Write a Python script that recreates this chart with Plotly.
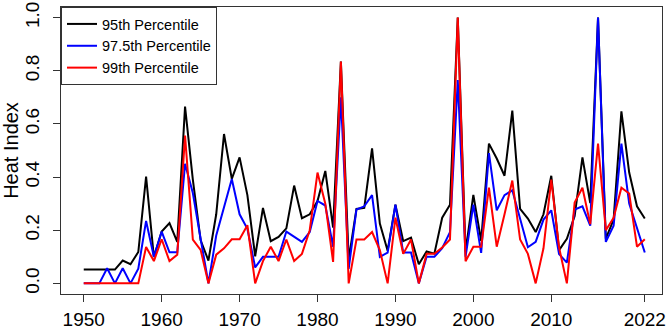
import plotly.graph_objects as go

years = list(range(1950, 2023))

p95 = [0.052, 0.052, 0.052, 0.052, 0.052, 0.086, 0.072, 0.118, 0.402, 0.099,
       0.195, 0.227, 0.156, 0.665, 0.39, 0.162, 0.086, 0.26, 0.562, 0.393,
       0.474, 0.332, 0.102, 0.284, 0.159, 0.175, 0.207, 0.368, 0.245, 0.26,
       0.31, 0.423, 0.21, 0.835, 0.09, 0.28, 0.284, 0.508, 0.225, 0.123,
       0.296, 0.159, 0.172, 0.072, 0.12, 0.112, 0.247, 0.296, 1.0, 0.12,
       0.333, 0.16, 0.526, 0.47, 0.405, 0.65, 0.28, 0.244, 0.193, 0.26,
       0.405, 0.125, 0.168, 0.253, 0.474, 0.302, 1.0, 0.168, 0.24, 0.647,
       0.417, 0.29, 0.244]

p975 = [0.0, 0.0, 0.0, 0.057, 0.0, 0.057, 0.0, 0.055, 0.235, 0.1,
        0.195, 0.117, 0.117, 0.45, 0.34, 0.168, 0.0, 0.18, 0.284, 0.393,
        0.26, 0.205, 0.06, 0.1, 0.1, 0.1, 0.195, 0.177, 0.156, 0.193,
        0.31, 0.293, 0.138, 0.70, 0.055, 0.278, 0.29, 0.332, 0.1, 0.116,
        0.296, 0.116, 0.116, 0.0, 0.1, 0.1, 0.132, 0.193, 0.765, 0.1,
        0.296, 0.115, 0.49, 0.275, 0.332, 0.35, 0.247, 0.136, 0.156, 0.24,
        0.275, 0.11, 0.078, 0.278, 0.29, 0.217, 1.0, 0.156, 0.217, 0.526,
        0.3, 0.21, 0.116]

p99 = [0.0, 0.0, 0.0, 0.0, 0.0, 0.0, 0.0, 0.0, 0.137, 0.084,
       0.166, 0.084, 0.108, 0.556, 0.165, 0.126, 0.0, 0.108, 0.132, 0.166,
       0.166, 0.219, 0.0, 0.084, 0.138, 0.084, 0.165, 0.084, 0.111, 0.2,
       0.417, 0.30, 0.081, 0.835, 0.0, 0.165, 0.165, 0.193, 0.125, 0.0,
       0.247, 0.111, 0.165, 0.0, 0.111, 0.111, 0.135, 0.165, 1.0, 0.083,
       0.138, 0.138, 0.36, 0.138, 0.26, 0.387, 0.165, 0.111, 0.0, 0.132,
       0.39, 0.135, 0.0, 0.304, 0.36, 0.223, 0.526, 0.2, 0.247, 0.36,
       0.338, 0.138, 0.166]

x_ticks = [1950, 1960, 1970, 1980, 1990, 2000, 2010, 2022]
y_ticks = [0.0, 0.2, 0.4, 0.6, 0.8, 1.0]
y_tick_labels = ["0.0", "0.2", "0.4", "0.6", "0.8", "1.0"]

series = [
    ("95th Percentile", p95, "#000000"),
    ("97.5th Percentile", p975, "#0000FF"),
    ("99th Percentile", p99, "#FF0000"),
]

FONT = "Liberation Sans, Arial, sans-serif"

fig = go.Figure()
for name, vals, color in series:
    fig.add_trace(go.Scatter(
        x=years, y=vals, mode="lines", name=name,
        line=dict(color=color, width=2),
    ))

fig.update_layout(
    width=668, height=332,
    margin=dict(l=58, r=6, t=2, b=33),
    paper_bgcolor="white", plot_bgcolor="white",
    font=dict(family=FONT, color="#000000"),
    showlegend=True,
    legend=dict(
        x=0, y=1, xanchor="left", yanchor="top",
        bgcolor="white", bordercolor="#333333", borderwidth=1,
        font=dict(family=FONT, size=14.5, color="#000000"),
        tracegroupgap=0, itemwidth=30,
    ),
)

fig.update_xaxes(
    range=[1947.08, 2024.21],
    tickmode="array", tickvals=x_ticks, ticktext=[str(v) for v in x_ticks],
    ticks="outside", ticklen=7, tickwidth=1, tickcolor="#333333",
    showline=True, linecolor="#333333", linewidth=1, mirror=True,
    showgrid=False, zeroline=False,
    tickfont=dict(family=FONT, size=19, color="#000000"),
    ticklabelstandoff=1,
    ticklabeloverflow="allow",
)

fig.update_yaxes(
    range=[-0.04, 1.04],
    tickmode="array", tickvals=y_ticks, ticktext=y_tick_labels,
    ticks="outside", ticklen=7, tickwidth=1, tickcolor="#333333",
    showline=True, linecolor="#333333", linewidth=1, mirror=True,
    showgrid=False, zeroline=False,
    tickangle=-90,
    tickfont=dict(family=FONT, size=19, color="#000000"),
    ticklabelstandoff=6,
    ticklabeloverflow="allow",
    title=dict(text="Heat Index", font=dict(family=FONT, size=20, color="#000000"), standoff=6),
)

fig.write_html(
    "out.html",
    config={"displayModeBar": False},
    post_script="document.body.style.margin='0';document.body.style.padding='0';",
)
